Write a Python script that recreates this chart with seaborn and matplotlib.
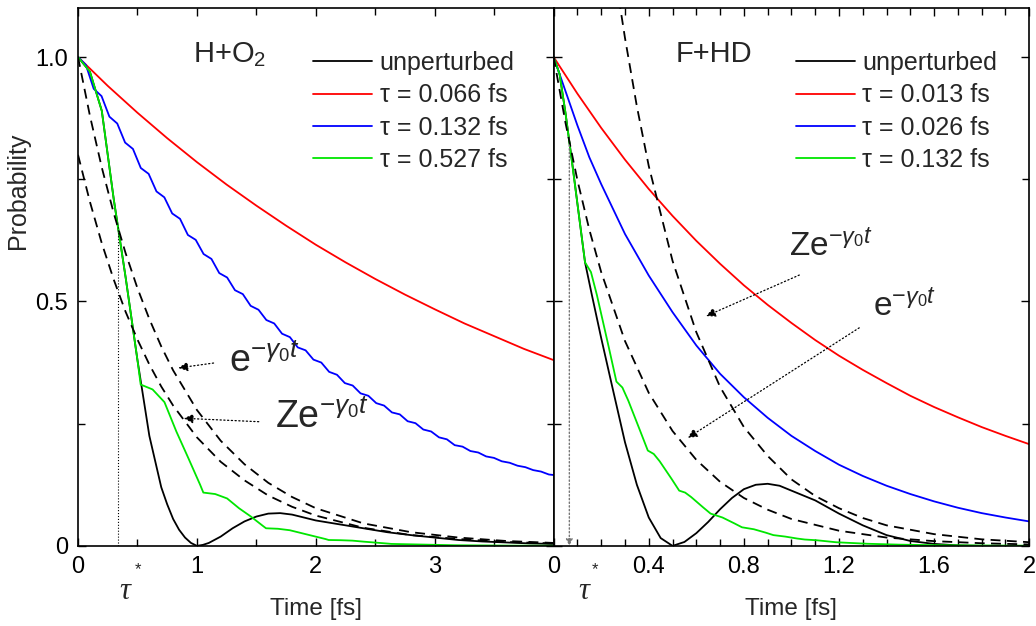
import matplotlib
matplotlib.use("Agg")
import matplotlib.pyplot as plt
import seaborn as sns
from matplotlib.ticker import MultipleLocator, FixedLocator, FixedFormatter

# ---------------- H+O2 panel ----------------
ho2_t_unp = [0, 0.1, 0.2, 0.3, 0.4, 0.5, 0.6, 0.7, 0.75, 0.8, 0.85, 0.9, 0.95, 1.0, 1.05, 1.1,
             1.2, 1.3, 1.4, 1.5, 1.6, 1.7, 1.8, 1.9, 2.0, 2.2, 2.4, 2.6, 2.8, 3.0, 3.2, 3.4, 3.6,
             3.8, 4.0]
ho2_unp = [1.0, 0.97, 0.89, 0.71, 0.55, 0.38, 0.225, 0.12, 0.085, 0.055, 0.033, 0.017, 0.006, 0.0,
           0.002, 0.006, 0.019, 0.036, 0.05, 0.06, 0.066, 0.067, 0.064, 0.058, 0.052, 0.044, 0.036,
           0.028, 0.022, 0.017, 0.012, 0.009, 0.007, 0.005, 0.004]

ho2_t_red = [0, 0.25, 0.5, 0.75, 1.0, 1.25, 1.5, 1.75, 2.0, 2.25, 2.5, 2.75, 3.0, 3.25, 3.5, 3.75, 4.0]
ho2_red = [1.0, 0.941, 0.886, 0.834, 0.785, 0.739, 0.696, 0.655, 0.616, 0.58, 0.546, 0.514, 0.484,
           0.455, 0.429, 0.403, 0.38]

# blue: kinks every 0.132 fs plus mid-interval values
ho2_t_blue = [0, 0.066, 0.132, 0.198, 0.264, 0.33, 0.396, 0.462, 0.528, 0.594, 0.66, 0.726, 0.792,
              0.858, 0.924, 0.99, 1.056, 1.122, 1.188, 1.254, 1.32, 1.386, 1.452, 1.518, 1.584,
              1.65, 1.716, 1.782, 1.848, 1.914, 1.98, 2.046, 2.112, 2.178, 2.244, 2.31, 2.376,
              2.442, 2.508, 2.574, 2.64, 2.706, 2.772, 2.838, 2.904, 2.97, 3.036, 3.102, 3.168,
              3.234, 3.3, 3.366, 3.432, 3.498, 3.564, 3.63, 3.696, 3.762, 3.828, 3.894, 3.96, 4.0]
ho2_blue = [1.0, 0.984, 0.935, 0.92, 0.878, 0.864, 0.825, 0.812, 0.773, 0.761, 0.725, 0.713, 0.68,
            0.669, 0.636, 0.626, 0.597, 0.587, 0.558, 0.549, 0.523, 0.515, 0.491, 0.483, 0.462,
            0.455, 0.434, 0.427, 0.406, 0.4, 0.381, 0.375, 0.356, 0.35, 0.333, 0.328, 0.312,
            0.307, 0.292, 0.287, 0.273, 0.269, 0.255, 0.251, 0.238, 0.234, 0.222, 0.218, 0.206,
            0.203, 0.194, 0.191, 0.183, 0.18, 0.173, 0.17, 0.164, 0.161, 0.155, 0.152, 0.146, 0.145]

# green: kinks every 0.527 fs
ho2_t_green = [0, 0.1, 0.2, 0.3, 0.4, 0.5, 0.527, 0.627, 0.727, 0.827, 0.927, 1.027, 1.054,
               1.154, 1.254, 1.354, 1.454, 1.554, 1.581, 1.681, 1.781, 1.881, 1.981, 2.081, 2.108,
               2.208, 2.308, 2.408, 2.508, 2.608, 2.635, 3.162, 3.689, 4.0]
ho2_green = [1.0, 0.97, 0.89, 0.71, 0.55, 0.38, 0.33, 0.32, 0.294, 0.234, 0.18, 0.125, 0.109,
             0.106, 0.097, 0.077, 0.06, 0.041, 0.036, 0.035, 0.032, 0.026, 0.02, 0.014, 0.012,
             0.0116, 0.0107, 0.0085, 0.0066, 0.0046, 0.004, 0.0013, 0.0004, 0.0003]

ho2_t_exp = [0, 0.1, 0.2, 0.3, 0.4, 0.5, 0.6, 0.7, 0.8, 1.0, 1.2, 1.4, 1.6, 1.8, 2.0, 2.4, 2.8,
             3.2, 3.6, 4.0]
ho2_exp = [1.0, 0.88, 0.774, 0.681, 0.599, 0.527, 0.464, 0.408, 0.359, 0.278, 0.215, 0.167, 0.129,
           0.1, 0.077, 0.046, 0.028, 0.017, 0.01, 0.006]
ho2_zexp = [0.8, 0.704, 0.619, 0.545, 0.479, 0.422, 0.371, 0.326, 0.287, 0.222, 0.172, 0.134,
            0.103, 0.08, 0.062, 0.037, 0.022, 0.014, 0.008, 0.005]
ho2_tau_star = 0.337
ho2_p_star = 0.655

# ---------------- F+HD panel ----------------
fhd_t_unp = [0, 0.025, 0.05, 0.075, 0.1, 0.132, 0.16, 0.2, 0.25, 0.3, 0.35, 0.4, 0.45, 0.5, 0.55,
             0.6, 0.65, 0.7, 0.75, 0.8, 0.85, 0.9, 0.95, 1.0, 1.1, 1.2, 1.3, 1.4, 1.5, 1.6, 1.7,
             1.8, 2.0]
fhd_unp = [1.0, 0.965, 0.885, 0.795, 0.7, 0.58, 0.515, 0.425, 0.318, 0.212, 0.125, 0.058, 0.016,
           0.0, 0.008, 0.026, 0.049, 0.075, 0.098, 0.116, 0.125, 0.127, 0.123, 0.113, 0.093,
           0.066, 0.042, 0.022, 0.01, 0.004, 0.001, 0.0, 0.0]

fhd_t_red = [0, 0.1, 0.2, 0.3, 0.4, 0.5, 0.6, 0.7, 0.8, 0.9, 1.0, 1.1, 1.2, 1.3, 1.4, 1.5, 1.6,
             1.7, 1.8, 1.9, 2.0]
fhd_red = [1.0, 0.925, 0.855, 0.79, 0.73, 0.675, 0.624, 0.577, 0.533, 0.493, 0.456, 0.421, 0.389,
           0.36, 0.333, 0.307, 0.284, 0.263, 0.243, 0.225, 0.208]

fhd_t_blue = [0, 0.05, 0.1, 0.15, 0.2, 0.3, 0.4, 0.5, 0.6, 0.7, 0.8, 0.9, 1.0, 1.1, 1.2, 1.3,
              1.4, 1.5, 1.6, 1.7, 1.8, 1.9, 2.0]
fhd_blue = [1.0, 0.93, 0.86, 0.795, 0.74, 0.638, 0.553, 0.478, 0.41, 0.352, 0.304, 0.262, 0.225,
            0.194, 0.166, 0.143, 0.123, 0.106, 0.091, 0.078, 0.067, 0.058, 0.05]

fhd_t_green = [0, 0.025, 0.05, 0.1, 0.132, 0.157, 0.182, 0.232, 0.264, 0.289, 0.314, 0.364, 0.396,
               0.421, 0.446, 0.496, 0.528, 0.553, 0.578, 0.628, 0.66, 0.71, 0.76, 0.792, 0.842,
               0.892, 0.924, 0.974, 1.024, 1.056, 1.106, 1.156, 1.188, 1.32, 1.452, 1.584, 1.8,
               2.0]
fhd_green = [1.0, 0.965, 0.885, 0.7, 0.58, 0.56, 0.513, 0.406, 0.336, 0.324, 0.297, 0.235, 0.195,
             0.188, 0.173, 0.137, 0.113, 0.109, 0.1, 0.079, 0.066, 0.058, 0.046, 0.038, 0.034,
             0.027, 0.022, 0.019, 0.015, 0.013, 0.0115, 0.009, 0.0074, 0.0043, 0.0025, 0.0015,
             0.0008, 0.0003]

fhd_t_exp = [0, 0.05, 0.1, 0.15, 0.2, 0.3, 0.4, 0.5, 0.6, 0.7, 0.8, 0.9, 1.0, 1.2, 1.4, 1.6, 1.8,
             2.0]
fhd_exp = [1.0, 0.865, 0.748, 0.647, 0.56, 0.419, 0.313, 0.235, 0.176, 0.131, 0.098, 0.074,
           0.055, 0.031, 0.017, 0.0097, 0.0054, 0.003]
fhd_t_zexp = [0.25, 0.275, 0.3, 0.35, 0.4, 0.5, 0.6, 0.7, 0.8, 0.9, 1.0, 1.1, 1.2, 1.3, 1.4, 1.6,
              1.8, 2.0]
fhd_zexp = [1.2, 1.117, 1.039, 0.899, 0.777, 0.583, 0.437, 0.325, 0.243, 0.184, 0.136, 0.102,
            0.077, 0.057, 0.042, 0.024, 0.0134, 0.0075]
fhd_tau_star = 0.066
fhd_p_star = 0.82

ho2_labels = ["unperturbed", "τ = 0.066 fs", "τ = 0.132 fs", "τ = 0.527 fs"]
fhd_labels = ["unperturbed", "τ = 0.013 fs", "τ = 0.026 fs", "τ = 0.132 fs"]

sns.set_theme(style="ticks")
plt.rcParams["font.family"] = ["Liberation Sans", "DejaVu Sans"]
plt.rcParams["mathtext.fontset"] = "custom"
plt.rcParams["mathtext.rm"] = "Liberation Sans"
plt.rcParams["mathtext.it"] = "Liberation Sans:italic"

GREEN = "#00e600"
LW = 1.3
DASH = (5.5, 3.5)

fig = plt.figure(figsize=(10.36, 6.26), dpi=100)
gs = fig.add_gridspec(1, 2, left=0.0753, right=0.9935, bottom=0.128, top=0.987, wspace=0)
ax1 = fig.add_subplot(gs[0, 0])
ax2 = fig.add_subplot(gs[0, 1], sharey=ax1)


def draw_panel(ax, t_unp, unp, t_red, red, t_blue, blue, t_green, green, labels):
    sns.lineplot(x=t_unp, y=unp, ax=ax, color="black", lw=LW, label=labels[0])
    sns.lineplot(x=t_red, y=red, ax=ax, color="#ff0000", lw=LW, label=labels[1])
    sns.lineplot(x=t_blue, y=blue, ax=ax, color="#0000ff", lw=LW, label=labels[2])
    sns.lineplot(x=t_green, y=green, ax=ax, color=GREEN, lw=LW, label=labels[3])


draw_panel(ax1, ho2_t_unp, ho2_unp, ho2_t_red, ho2_red, ho2_t_blue, ho2_blue,
           ho2_t_green, ho2_green, ho2_labels)
sns.lineplot(x=ho2_t_exp, y=ho2_exp, ax=ax1, color="black", lw=LW)
sns.lineplot(x=ho2_t_exp, y=ho2_zexp, ax=ax1, color="black", lw=LW)
for ln in ax1.lines[-2:]:
    ln.set_dashes(DASH)

draw_panel(ax2, fhd_t_unp, fhd_unp, fhd_t_red, fhd_red, fhd_t_blue, fhd_blue,
           fhd_t_green, fhd_green, fhd_labels)
sns.lineplot(x=fhd_t_exp, y=fhd_exp, ax=ax2, color="black", lw=LW)
sns.lineplot(x=fhd_t_zexp, y=fhd_zexp, ax=ax2, color="black", lw=LW)
for ln in ax2.lines[-2:]:
    ln.set_dashes(DASH)

# tau* markers
ax1.vlines(ho2_tau_star, 0, ho2_p_star, colors="black", linestyles=":", lw=0.8)
ax2.annotate("", xy=(fhd_tau_star, 0), xytext=(fhd_tau_star, fhd_p_star),
             arrowprops=dict(arrowstyle="-|>", color="#777777", lw=1.0, linestyle=":",
                             mutation_scale=10, shrinkA=0, shrinkB=0))

# axes, ticks
ax1.set_xlim(0, 4)
ax2.set_xlim(0, 2)
ax1.set_ylim(0, 1.1)
for ax in (ax1, ax2):
    ax.yaxis.set_major_locator(FixedLocator([0, 0.5, 1.0]))
    ax.yaxis.set_minor_locator(MultipleLocator(0.25))
    ax.tick_params(which="both", direction="in", top=True, right=True, left=True,
                   bottom=True, width=1.0, labelsize=17, colors="black", pad=7)
    ax.tick_params(which="major", length=6)
    ax.tick_params(which="minor", length=5)
    for s in ax.spines.values():
        s.set_linewidth(1.2)
        s.set_color("black")
    ax.set_xlabel("Time [fs]", fontsize=17.5, labelpad=15)

ax1.yaxis.set_major_formatter(FixedFormatter(["0", "0.5", "1.0"]))
ax1.set_ylabel("Probability", fontsize=18)
ax1.yaxis.set_label_coords(-0.1, 0.66)
ax2.tick_params(labelleft=False)
ax2.set_ylabel("")

ax1.xaxis.set_major_locator(FixedLocator([0, 1, 2, 3, 4]))
ax1.xaxis.set_major_formatter(FixedFormatter(["0", "1", "2", "3", ""]))
ax1.xaxis.set_minor_locator(MultipleLocator(0.5))
ax2.xaxis.set_major_locator(FixedLocator([0, 0.4, 0.8, 1.2, 1.6, 2.0]))
ax2.xaxis.set_major_formatter(FixedFormatter(["0", "0.4", "0.8", "1.2", "1.6", "2"]))
ax2.xaxis.set_minor_locator(MultipleLocator(0.1))

# tau* labels under the axis
for ax, xt, dx in ((ax1, ho2_tau_star + 0.06, 0.11), (ax2, fhd_tau_star + 0.062, 0.045)):
    ax.text(xt, -0.085, "τ", transform=ax.get_xaxis_transform(), ha="center", va="center",
            fontsize=22, family="Liberation Serif", style="italic")
    ax.text(xt + dx, -0.045, "*", transform=ax.get_xaxis_transform(),
            ha="center", va="center", fontsize=12)

# panel titles
ax1.text(0.242, 0.9, "H+O$_2$", transform=ax1.transAxes, fontsize=21, va="baseline")
ax2.text(0.257, 0.9, "F+HD", transform=ax2.transAxes, fontsize=21, va="baseline")

# legends
for ax, x0 in ((ax1, 0.495), (ax2, 0.51)):
    ax.legend(loc="upper left", bbox_to_anchor=(x0, 0.92), frameon=False, fontsize=18,
              handlelength=2.35, handletextpad=0.3, labelspacing=0.33, borderpad=0,
              borderaxespad=0)

# annotations
e_txt = r"e$^{-\gamma_{\mathit{0}}t}$"
z_txt = r"Ze$^{-\gamma_{\mathit{0}}t}$"
arrow = dict(arrowstyle="-|>", color="black", lw=0.9, linestyle=(0, (1, 2)),
             mutation_scale=14, shrinkA=0, shrinkB=0)
ax1.text(1.27, 0.356, e_txt, fontsize=27, va="baseline")
ax1.annotate("", xy=(0.844, 0.364), xytext=(1.14, 0.374), arrowprops=arrow)
ax1.text(1.66, 0.241, z_txt, fontsize=27, va="baseline")
ax1.annotate("", xy=(0.889, 0.261), xytext=(1.52, 0.254), arrowprops=arrow)
ax2.text(0.99, 0.593, z_txt, fontsize=24, va="baseline")
ax2.annotate("", xy=(0.641, 0.47), xytext=(1.033, 0.554), arrowprops=arrow)
ax2.text(1.342, 0.47, e_txt, fontsize=24, va="baseline")
ax2.annotate("", xy=(0.564, 0.221), xytext=(1.285, 0.446), arrowprops=arrow)

fig.savefig("out.png", dpi=100)
